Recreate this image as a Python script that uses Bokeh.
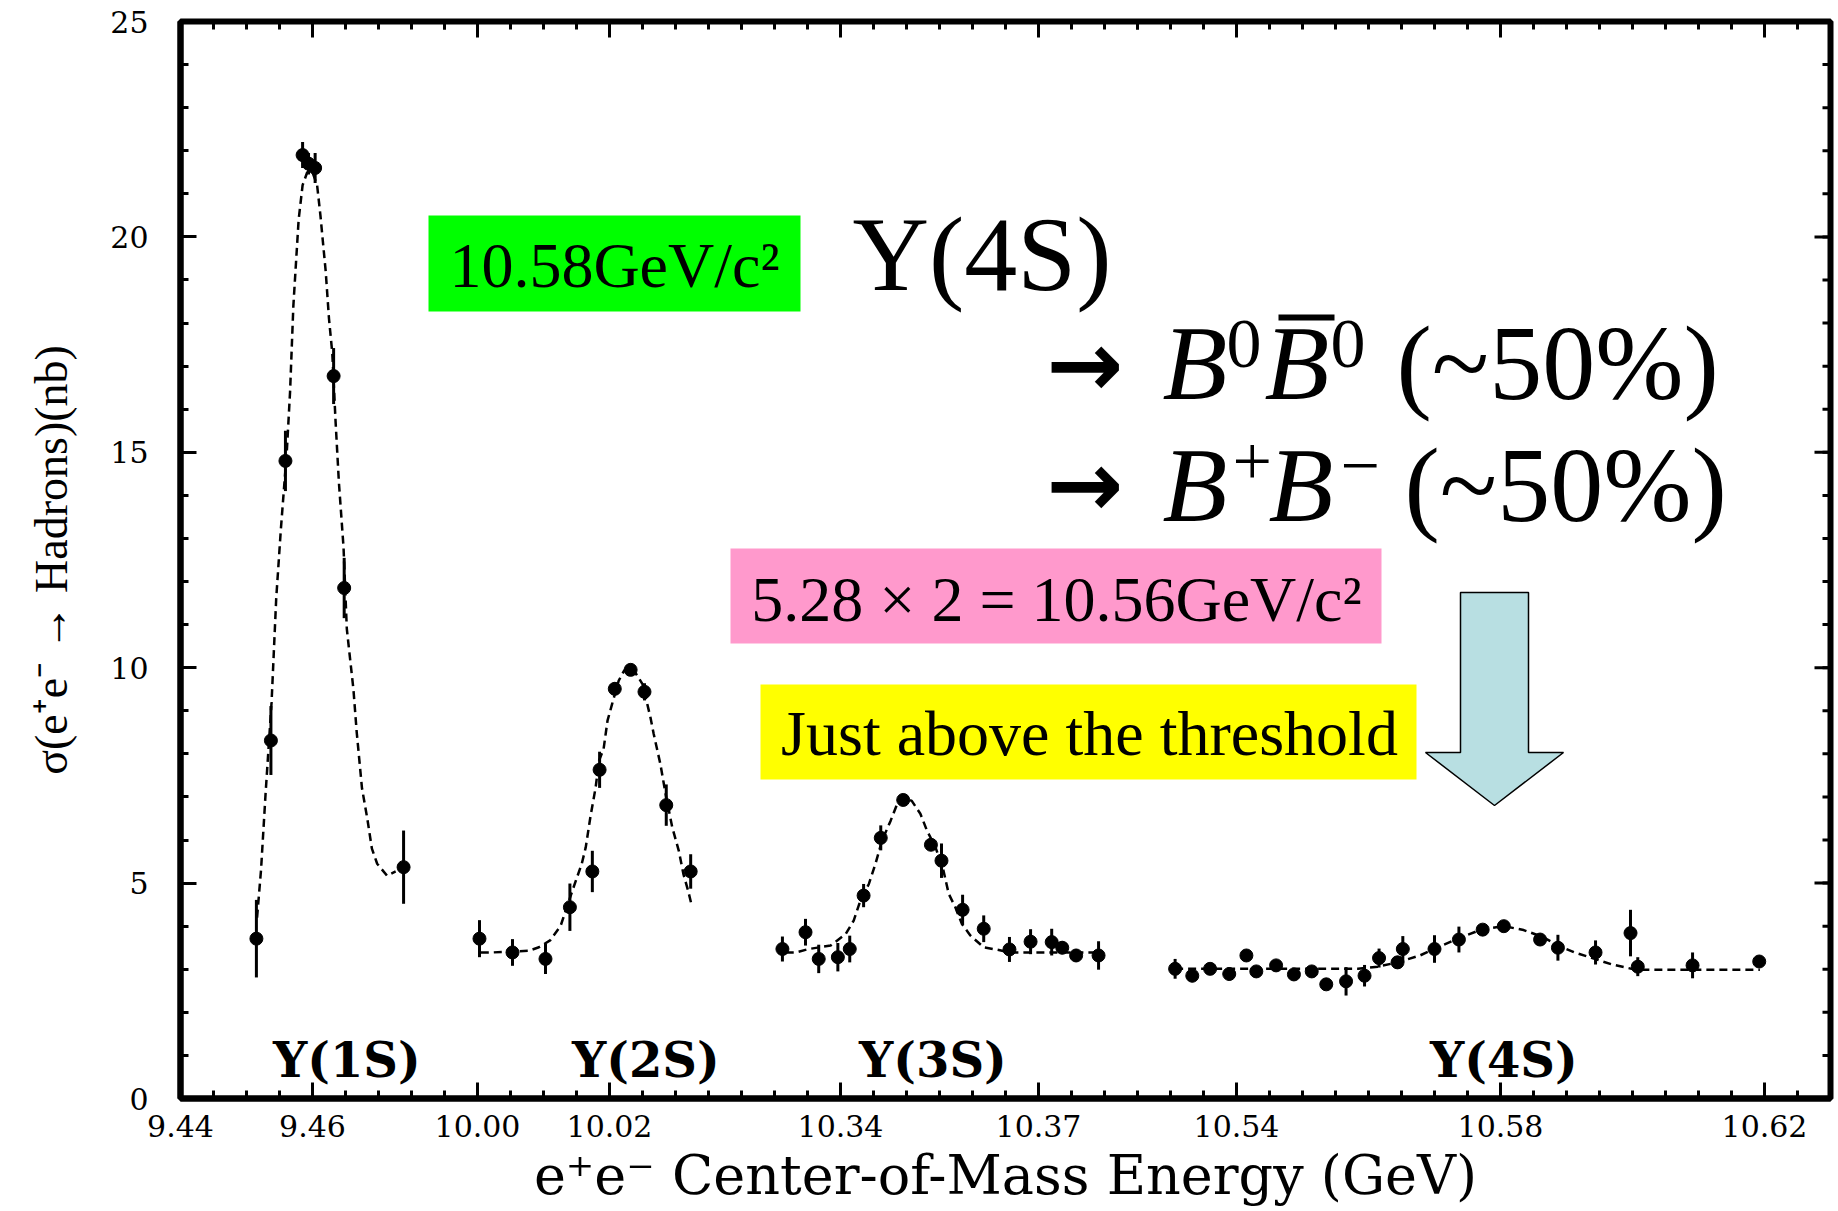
import numpy as np
from bokeh.plotting import figure
from bokeh.models import Range1d, FixedTicker, ColumnDataSource, BoxAnnotation, Label
from bokeh.embed import file_html
from bokeh.resources import INLINE

# ---------------- broken energy axis (GeV) ----------------
seg_start = [9.44, 9.995, 10.325, 10.525]
seg_end = [9.48, 10.04, 10.385, 10.63]
major_tick_values = [9.44, 9.46, 10.00, 10.02, 10.34, 10.37, 10.54, 10.58, 10.62]
major_tick_labels = ["9.44", "9.46", "10.00", "10.02", "10.34", "10.37", "10.54", "10.58", "10.62"]
y_major_ticks = [0, 5, 10, 15, 20, 25]
y_minor_ticks = list(range(0, 26))
x_title = "e⁺e⁻ Center-of-Mass Energy (GeV)"
y_title = "σ(e⁺e⁻ → Hadrons)(nb)"

# ---------------- data: Y(1S) ----------------
e_1s = [9.4515, 9.4537, 9.4559, 9.4585, 9.4594, 9.4604, 9.4632, 9.4648, 9.4738]
sig_1s = [3.71, 8.31, 14.80, 21.90, 21.70, 21.60, 16.77, 11.85, 5.37]
err_1s = [0.90, 0.80, 0.70, 0.30, 0.25, 0.35, 0.65, 0.70, 0.85]
fit_e_1s = [9.4516, 9.4522, 9.4529, 9.4538, 9.4545, 9.4552, 9.4561, 9.4566, 9.4571, 9.4579,
            9.4585, 9.4592, 9.4600, 9.4607, 9.4612, 9.4620, 9.4625, 9.4630, 9.4635, 9.4640,
            9.4647, 9.4652, 9.4662, 9.4667, 9.4675, 9.4683, 9.4690, 9.4698, 9.4713, 9.4726]
fit_s_1s = [4.2, 5.3, 7.1, 9.2, 11.6, 13.2, 15.0, 16.4, 18.4, 20.4,
            21.2, 21.5, 21.5, 21.2, 20.5, 19.2, 18.1, 17.3, 15.7, 14.3,
            12.8, 10.9, 9.5, 8.5, 7.2, 6.5, 5.8, 5.45, 5.17, 5.27]

# ---------------- data: Y(2S) ----------------
e_2s = [10.0003, 10.0053, 10.0103, 10.0140, 10.0174, 10.0185, 10.0208, 10.0232, 10.0253, 10.0286, 10.0323]
sig_2s = [3.71, 3.39, 3.24, 4.44, 5.27, 7.63, 9.51, 9.95, 9.44, 6.81, 5.27]
err_2s = [0.43, 0.31, 0.35, 0.55, 0.48, 0.42, 0.15, 0.10, 0.20, 0.48, 0.40]
fit_e_2s = [10.0005, 10.0022, 10.0078, 10.0093, 10.0110, 10.0126, 10.0143, 10.0158, 10.0164, 10.0171,
            10.0179, 10.0184, 10.0191, 10.0197, 10.0204, 10.0214, 10.0222, 10.0234, 10.0250, 10.0262,
            10.0267, 10.0277, 10.0285, 10.0295, 10.0305, 10.0312, 10.0319, 10.0324]
fit_s_2s = [3.39, 3.39, 3.43, 3.51, 3.67, 4.01, 4.79, 5.45, 5.83, 6.53,
            7.22, 7.84, 8.11, 8.77, 9.16, 9.70, 9.93, 10.01, 9.62, 8.85,
            8.46, 7.77, 7.07, 6.30, 5.75, 5.21, 4.83, 4.52]

# ---------------- data: Y(3S) ----------------
e_3s = [10.3312, 10.3347, 10.3367, 10.3396, 10.3414, 10.3435, 10.3461, 10.3495, 10.3537,
        10.3553, 10.3585, 10.3617, 10.3656, 10.3688, 10.3720, 10.3736, 10.3757, 10.3791]
sig_3s = [3.47, 3.86, 3.24, 3.28, 3.47, 4.71, 6.05, 6.93, 5.89,
          5.52, 4.38, 3.94, 3.46, 3.64, 3.63, 3.50, 3.32, 3.32]
err_3s = [0.29, 0.31, 0.33, 0.33, 0.31, 0.27, 0.29, 0.10, 0.10,
          0.40, 0.35, 0.31, 0.29, 0.29, 0.31, 0.15, 0.15, 0.33]
fit_e_3s = [10.3317, 10.3332, 10.3352, 10.3385, 10.3408, 10.3420, 10.3430, 10.3443, 10.3453, 10.3463,
            10.3476, 10.3486, 10.3496, 10.3508, 10.3521, 10.3531, 10.3544, 10.3556, 10.3564, 10.3574,
            10.3584, 10.3597, 10.3617, 10.3635, 10.3658, 10.3708, 10.3789]
fit_s_3s = [3.39, 3.39, 3.47, 3.55, 3.82, 4.13, 4.59, 4.98, 5.45, 5.99,
            6.45, 6.84, 6.99, 6.91, 6.61, 6.22, 5.83, 5.29, 4.75, 4.44,
            4.05, 3.78, 3.51, 3.46, 3.39, 3.39, 3.39]

# ---------------- data: Y(4S) ----------------
e_4s = [10.5307, 10.5333, 10.5360, 10.5389, 10.5415, 10.5430, 10.5460, 10.5487, 10.5514,
        10.5536, 10.5566, 10.5594, 10.5616, 10.5644, 10.5652, 10.5700, 10.5737, 10.5773,
        10.5805, 10.5860, 10.5887, 10.5944, 10.5997, 10.6008, 10.6091, 10.6192]
sig_4s = [3.01, 2.85, 3.01, 2.89, 3.32, 2.95, 3.09, 2.88, 2.95,
          2.65, 2.72, 2.85, 3.26, 3.16, 3.47, 3.47, 3.69, 3.92,
          4.00, 3.69, 3.50, 3.39, 3.84, 3.06, 3.09, 3.18]
err_4s = [0.23, 0.15, 0.12, 0.15, 0.12, 0.12, 0.12, 0.12, 0.12,
          0.12, 0.33, 0.25, 0.22, 0.15, 0.30, 0.32, 0.30, 0.12,
          0.10, 0.12, 0.30, 0.28, 0.54, 0.22, 0.30, 0.12]
fit_e_4s = [10.5307, 10.5537, 10.5584, 10.5614, 10.5644, 10.5678, 10.5711, 10.5738, 10.5771,
            10.5805, 10.5835, 10.5862, 10.5888, 10.5912, 10.5939, 10.5969, 10.6005, 10.6193]
fit_s_4s = [3.01, 3.01, 3.01, 3.06, 3.16, 3.32, 3.55, 3.73, 3.92,
            4.00, 3.91, 3.76, 3.55, 3.39, 3.26, 3.11, 2.99, 2.99]

resonance_names = ["Υ(1S)", "Υ(2S)", "Υ(3S)", "Υ(4S)"]
resonance_label_e = [9.4652, 10.0255, 10.354, 10.5805]

# ---------------- broken-axis mapping ----------------
seg_len = np.array(seg_end) - np.array(seg_start)
seg_off = np.concatenate([[0.0], np.cumsum(seg_len)[:-1]])
x_total = float(seg_len.sum())


def to_disp(e):
    e = np.atleast_1d(np.asarray(e, dtype=float))
    out = np.full_like(e, np.nan)
    for s0, s1, off in zip(seg_start, seg_end, seg_off):
        m = (e >= s0 - 1e-9) & (e <= s1 + 1e-9)
        out[m] = e[m] - s0 + off
    return out


# ---------------- figure ----------------
W, H = 1836, 1210
ML, MR, MT, MB = 180, 6, 21, 112
p = figure(width=W, height=H, output_backend="svg", toolbar_location=None,
           x_range=Range1d(0, x_total), y_range=Range1d(0, 25),
           min_border_left=ML, min_border_right=MR, min_border_top=MT, min_border_bottom=MB)
p.xgrid.grid_line_color = None
p.ygrid.grid_line_color = None
p.outline_line_color = "black"
p.outline_line_width = 6
p.background_fill_color = "white"
p.border_fill_color = "white"

FRAME_L, FRAME_B = ML, H - MB
PX_PER_X = (W - ML - MR) / x_total
PX_PER_Y = (H - MT - MB) / 25.0


def px2x(px):
    return (px - FRAME_L) / PX_PER_X


def px2y(py):
    return (FRAME_B - py) / PX_PER_Y


major_ticks_disp = [float(v) for v in to_disp(major_tick_values)]
minor_ticks_disp = []
for s0, s1 in zip(seg_start, seg_end):
    n = int(round((s1 - s0) / 0.005))
    minor_ticks_disp += [float(v) for v in to_disp([s0 + 0.005 * k for k in range(n + 1)])]
x_ticker = FixedTicker(ticks=major_ticks_disp, minor_ticks=minor_ticks_disp)
y_ticker = FixedTicker(ticks=y_major_ticks, minor_ticks=y_minor_ticks)

MAJ_LEN, MIN_LEN = 16, 8
TICK_FONT = "DejaVu Serif"


def style_axis(ax):
    ax.axis_line_width = 6
    ax.axis_line_color = "black"
    ax.major_tick_in = MAJ_LEN
    ax.major_tick_out = 0
    ax.minor_tick_in = MIN_LEN
    ax.minor_tick_out = 0
    ax.major_tick_line_width = 3
    ax.minor_tick_line_width = 3
    ax.major_tick_line_color = "black"
    ax.minor_tick_line_color = "black"
    ax.major_label_text_font = TICK_FONT
    ax.major_label_text_font_size = "30px"
    ax.major_label_text_color = "black"


xa = p.xaxis[0]
xa.ticker = x_ticker
xa.major_label_overrides = {t: l for t, l in zip(major_ticks_disp, major_tick_labels)}
style_axis(xa)
xa.major_label_standoff = 16
xa.axis_label = x_title
xa.axis_label_text_font = "DejaVu Serif"
xa.axis_label_text_font_style = "normal"
xa.axis_label_text_font_size = "54px"
xa.axis_label_standoff = 4
xa.axis_label_text_color = "black"

ya = p.yaxis[0]
ya.ticker = y_ticker
style_axis(ya)
ya.major_label_standoff = 32
ya.axis_label = y_title
ya.axis_label_text_font = "Liberation Serif"
ya.axis_label_text_font_style = "normal"
ya.axis_label_text_font_size = "46px"
ya.axis_label_standoff = 30
ya.axis_label_text_color = "black"

# mirrored inward ticks on the top and right frame edges (same tickers)
top_x = major_ticks_disp + minor_ticks_disp
top_len = [MAJ_LEN] * len(major_ticks_disp) + [MIN_LEN] * len(minor_ticks_disp)
p.segment(x0=top_x, y0=[25.0] * len(top_x), x1=top_x,
          y1=[25.0 - L / PX_PER_Y for L in top_len], line_color="black", line_width=3)
right_y = [float(v) for v in y_major_ticks] + [float(v) for v in y_minor_ticks]
right_len = [MAJ_LEN] * len(y_major_ticks) + [MIN_LEN] * len(y_minor_ticks)
p.segment(x0=[x_total] * len(right_y), y0=right_y, x1=[x_total - L / PX_PER_X for L in right_len],
          y1=right_y, line_color="black", line_width=3)

# ---------------- data glyphs ----------------
series = [(e_1s, sig_1s, err_1s, fit_e_1s, fit_s_1s),
          (e_2s, sig_2s, err_2s, fit_e_2s, fit_s_2s),
          (e_3s, sig_3s, err_3s, fit_e_3s, fit_s_3s),
          (e_4s, sig_4s, err_4s, fit_e_4s, fit_s_4s)]
for e, s, er, fe, fs in series:
    p.line(to_disp(fe), fs, line_color="black", line_width=2.5, line_dash="8 5")
    s_arr, er_arr = np.array(s), np.array(er)
    src = ColumnDataSource(dict(x=to_disp(e), y=s_arr, lo=s_arr - er_arr, hi=s_arr + er_arr))
    p.segment(x0="x", y0="lo", x1="x", y1="hi", source=src, line_color="black", line_width=3)
    p.scatter(x="x", y="y", source=src, size=13, marker="circle", fill_color="black", line_color="black")

# text placement helper: baseline given in page pixels (corrected for the renderer's baseline offset)
BASE_FIX = 0.35


def add_text(txt, px, py, size, align="left", style="normal", font="Liberation Serif", xdata=None):
    x = px2x(px) if xdata is None else xdata
    p.add_layout(Label(x=x, y=px2y(py - BASE_FIX * size), text=txt, text_font=font,
                       text_font_size=f"{size}px", text_font_style=style, text_align=align,
                       text_baseline="alphabetic", text_color="black"))


for name, le in zip(resonance_names, resonance_label_e):
    add_text(name, 0, 1076, 48, align="center", style="bold", font="DejaVu Serif",
             xdata=float(to_disp(le)[0]))

# ---------------- annotations (slide overlay) ----------------
boxes = [(428, 800, 215, 311, "#00FF00"),
         (730, 1381, 548, 643, "#FF99CC"),
         (760, 1416, 684, 779, "#FFFF00")]
for l, r, t, b, c in boxes:
    p.add_layout(BoxAnnotation(left=px2x(l), right=px2x(r), top=px2y(t), bottom=px2y(b),
                               fill_color=c, fill_alpha=1.0, line_color=None))

add_text("10.58GeV/c²", 614, 287, 64, "center")
add_text("5.28 × 2 = 10.56GeV/c²", 1056, 621, 64, "center")
add_text("Just above the threshold", 1089, 755, 64, "center")
add_text("Υ(4S)", 852, 291, 106)

# decay lines
add_text("→", 1046, 396, 92, style="bold", font="DejaVu Sans")
add_text("B", 1162, 400, 106, style="italic")
add_text("0", 1226, 368, 70)
add_text("B", 1264, 400, 106, style="italic")
add_text("0", 1330, 368, 70)
add_text("(~50%)", 1396, 400, 106)
add_text("→", 1046, 516, 92, style="bold", font="DejaVu Sans")
add_text("B", 1162, 522, 106, style="italic")
add_text("+", 1232, 486, 70)
add_text("B", 1268, 522, 106, style="italic")
add_text("−", 1340, 490, 70)
add_text("(~50%)", 1404, 522, 106)
# overbar of anti-B
p.segment(x0=[px2x(1278)], y0=[px2y(317)], x1=[px2x(1334)], y1=[px2y(317)], line_color="black", line_width=6)

# big light-blue down arrow
ax_c, sh_half, hd_half = 1494, 34, 69
a_top, a_base, a_tip = 592, 752, 805
arrow_px = [(ax_c - sh_half, a_top), (ax_c + sh_half, a_top), (ax_c + sh_half, a_base), (ax_c + hd_half, a_base),
            (ax_c, a_tip), (ax_c - hd_half, a_base), (ax_c - sh_half, a_base)]
p.patch([px2x(a[0]) for a in arrow_px], [px2y(a[1]) for a in arrow_px],
        fill_color="#B8DFE2", line_color="black", line_width=1.5)

open("out.html", "w").write(file_html(p, INLINE))
